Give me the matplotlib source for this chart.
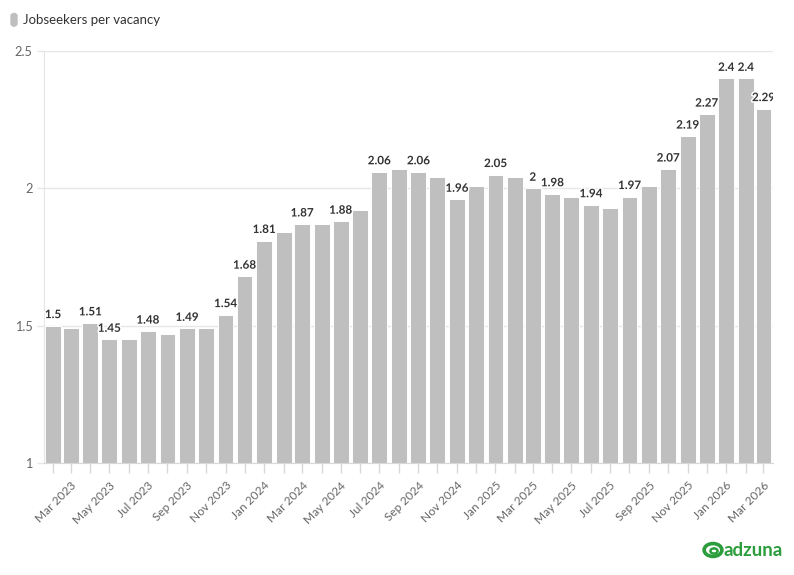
import pandas as pd
import numpy as np
import matplotlib
matplotlib.use('Agg')
import matplotlib.pyplot as plt
import matplotlib.dates as mdates
import matplotlib.patheffects as pe
from matplotlib.transforms import offset_copy
from matplotlib.patches import FancyBboxPatch, Circle

# --- Data ---
months = pd.date_range('2023-02-01', '2026-03-01', freq='MS')
jobseekers_per_vacancy = [
    1.50, 1.49, 1.51, 1.45, 1.45, 1.48, 1.47, 1.49, 1.49, 1.54,
    1.68, 1.81, 1.84, 1.87, 1.87, 1.88, 1.92, 2.06, 2.07, 2.06,
    2.04, 1.96, 2.01, 2.05, 2.04, 2.00, 1.98, 1.97, 1.94, 1.93,
    1.97, 2.01, 2.07, 2.19, 2.27, 2.40, 2.40, 2.29,
]
# bars whose value label is visible (others hidden by overlap)
shown_labels = [0, 2, 3, 5, 7, 9, 10, 11, 13, 15, 17, 19, 21, 23, 25, 26,
                28, 30, 32, 33, 34, 35, 36, 37]
y_ticks = [1, 1.5, 2, 2.5]
y_tick_labels = ['1', '1.5', '2', '2.5']
series_name = 'Jobseekers per vacancy'

BAR_COLOR = '#bfbfbf'
GRID_COLOR = '#e6e6e6'
TEXT_COLOR = '#666666'
GREEN = '#2c9d3c'
FONT = ['Lato', 'DejaVu Sans']

plt.rcParams['font.family'] = FONT

fig = plt.figure(figsize=(7.94, 5.75), dpi=100)
ax = fig.add_axes([0.0548, 0.1948, 0.9184, 0.7165])

x = mdates.date2num(months)
ax.bar(x, jobseekers_per_vacancy, width=25, color=BAR_COLOR,
       edgecolor='white', linewidth=0.7, zorder=2)

ax.set_ylim(1, 2.5)
ax.set_xlim(x[0] - 15, x[-1] + 14.6)

# value labels, clipped to the plot area like the original
label_trans = offset_copy(ax.transData, fig=fig, x=0, y=4, units='points')
for i in shown_labels:
    v = jobseekers_per_vacancy[i]
    ax.text(x[i], v, f"{v:g}", transform=label_trans,
            ha='center', va='bottom', fontsize=8.4, fontweight='bold',
            color='#333333', zorder=4, clip_on=True,
            path_effects=[pe.withStroke(linewidth=2.2, foreground='white')])

# y axis
ax.set_yticks(y_ticks)
ax.set_yticklabels(y_tick_labels)
ax.yaxis.grid(True, color=GRID_COLOR, linewidth=1, zorder=0)
ax.tick_params(axis='y', length=5, width=1, color=GRID_COLOR, labelcolor=TEXT_COLOR,
               labelsize=9.2, pad=3)

# x axis: tick every month, label every other
ax.set_xticks(x)
xlabels = [m.strftime('%b %Y') if i % 2 == 1 else '' for i, m in enumerate(months)]
ax.set_xticklabels(xlabels, rotation=45, ha='right', rotation_mode='anchor')
ax.tick_params(axis='x', length=7, width=1, color='#d8d8d8', labelcolor=TEXT_COLOR,
               labelsize=8.6, pad=5)

for side in ['top', 'right']:
    ax.spines[side].set_visible(False)
ax.spines['left'].set_color(GRID_COLOR)
ax.spines['bottom'].set_color('#d8d8d8')
ax.set_axisbelow(True)

# legend (top-left)
fig.patches.append(FancyBboxPatch((11 / 794, 1 - 26 / 575), 6 / 794, 12.5 / 575,
                                  boxstyle='round,pad=0,rounding_size=0.004',
                                  transform=fig.transFigure, color=BAR_COLOR))
fig.text(23 / 794, 1 - 20 / 575, series_name, fontsize=9.5, color='#333333',
         va='center', ha='left')

# adzuna logo (bottom-right)
fig.patches.append(Circle((713 / 794, 1 - 550 / 575), 0.0112, transform=fig.transFigure,
                          fill=False, edgecolor=GREEN, linewidth=2.6))
fig.patches.append(Circle((714 / 794, 1 - 551 / 575), 0.0045, transform=fig.transFigure,
                          fill=False, edgecolor=GREEN, linewidth=1.8))
fig.text(723 / 794, 1 - 551 / 575, 'adzuna', fontsize=13.5, fontweight='bold',
         color=GREEN, va='center', ha='left')

plt.savefig('out.png', dpi=100)
